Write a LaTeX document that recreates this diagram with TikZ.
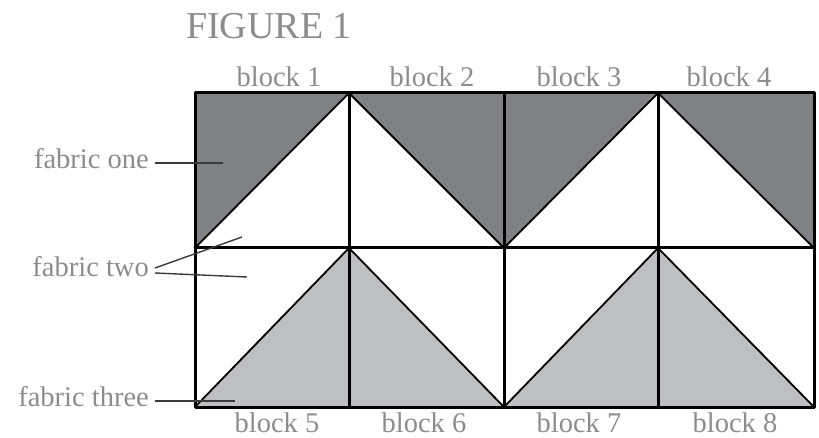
\documentclass[tikz,border=0pt]{standalone}
\usepackage{fontspec}
\setmainfont{Liberation Serif}
\definecolor{darkfab}{HTML}{808185}
\definecolor{lightfab}{HTML}{BEBFC1}
\definecolor{txtgray}{HTML}{8C8C8C}
\definecolor{leadgray}{HTML}{3A3A3A}
\begin{document}
\begin{tikzpicture}[x=1pt,y=-1pt,
  lbl/.style={text=txtgray, font=\fontsize{28.5}{28.5}\selectfont, inner sep=0pt},
  grid line/.style={line width=3pt, line cap=round, line join=round},
  diag/.style={line width=1.8pt},
  leader/.style={draw=leadgray, line width=1.4pt}]
\useasboundingbox (0,0) rectangle (819,438);
% grid coordinates
\foreach \i/\x in {0/195,1/349,2/504,3/658,4/814}{
  \foreach \j/\y in {0/93,1/248,2/407}{
    \coordinate (p\i\j) at (\x,\y);
  }
}
% fabric one (top row)
\fill[darkfab] (p00) -- (p10) -- (p01) -- cycle;
\fill[darkfab] (p10) -- (p20) -- (p21) -- cycle;
\fill[darkfab] (p20) -- (p30) -- (p21) -- cycle;
\fill[darkfab] (p30) -- (p40) -- (p41) -- cycle;
% fabric three (bottom row)
\fill[lightfab] (p02) -- (p11) -- (p12) -- cycle;
\fill[lightfab] (p11) -- (p22) -- (p12) -- cycle;
\fill[lightfab] (p22) -- (p31) -- (p32) -- cycle;
\fill[lightfab] (p31) -- (p42) -- (p32) -- cycle;
% diagonals
\draw[diag] (p01) -- (p10) -- (p21) -- (p30) -- (p41);
\draw[diag] (p02) -- (p11) -- (p22) -- (p31) -- (p42);
% grid
\draw[grid line] (p00) rectangle (p42);
\draw[grid line] (p01) -- (p41);
\draw[grid line] (p10) -- (p12);
\draw[grid line] (p20) -- (p22);
\draw[grid line] (p30) -- (p32);
% title
\node[lbl, font=\fontsize{38}{38}\selectfont, anchor=base west] (title) at (186,39) {FIGURE 1};
% block labels
\node[lbl, anchor=base] (b1) at (279,87) {block 1};
\node[lbl, anchor=base] (b2) at (432,87) {block 2};
\node[lbl, anchor=base] (b3) at (579,87) {block 3};
\node[lbl, anchor=base] (b4) at (729,87) {block 4};
\node[lbl, anchor=base] (b5) at (277,432) {block 5};
\node[lbl, anchor=base] (b6) at (424,432) {block 6};
\node[lbl, anchor=base] (b7) at (579,432) {block 7};
\node[lbl, anchor=base] (b8) at (735,432) {block 8};
% fabric labels
\node[lbl, anchor=base east] (f1) at (149,169) {fabric one};
\node[lbl, anchor=base east] (f2) at (149,277) {fabric two};
\node[lbl, anchor=base east] (f3) at (149,406) {fabric three};
\coordinate (f1s) at (155,163);
\coordinate (f1e) at (223,163);
\coordinate (f2s) at (155,268);
\coordinate (f2a) at (242,237);
\coordinate (f2t) at (155,273);
\coordinate (f2b) at (247,277);
\coordinate (f3s) at (155,401);
\coordinate (f3e) at (235,401);
\draw[leader] (f1s) -- (f1e);
\draw[leader] (f2s) -- (f2a);
\draw[leader] (f2t) -- (f2b);
\draw[leader] (f3s) -- (f3e);
\end{tikzpicture}
\end{document}
